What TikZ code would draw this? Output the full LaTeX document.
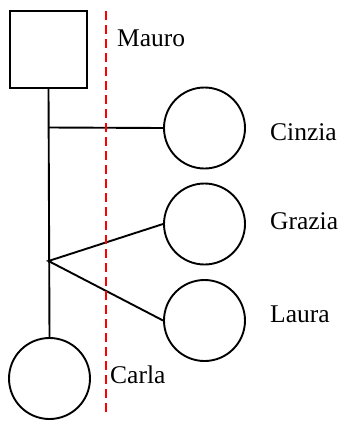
\documentclass[tikz,border=0pt]{standalone}
\usepackage{fontspec}
\setmainfont{Liberation Serif}
\begin{document}
\begin{tikzpicture}[x=1pt,y=-1pt,
  male/.style={draw, line width=1.9pt, minimum size=77pt, inner sep=0pt, shape=rectangle},
  female/.style={draw, line width=1.9pt, minimum size=81pt, inner sep=0pt, shape=circle},
  link/.style={line width=1.9pt},
  lbl/.style={inner sep=0pt, anchor=base west, font=\fontsize{25.5}{30}\selectfont},
  sep/.style={red, line width=1.9pt, dash pattern=on 9pt off 5pt}]
\useasboundingbox (0,0) rectangle (344,424);
\node[male] (mauro) at (48.5,49.5) {};
\node[female] (carla) at (49.5,378.5) {};
\node[female] (cinzia) at (204.5,128) {};
\node[female] (grazia) at (204.5,224) {};
\node[female] (laura) at (204.5,320.5) {};
\coordinate (j1) at (48.5,127.5);
\coordinate (j2) at (48.5,261);
\coordinate (rtop) at (106,11);
\coordinate (rbot) at (106,416);
\draw[link] (mauro.south) -- (carla.north);
\draw[link] (j1) -- (cinzia.west);
\draw[link] (grazia.west) -- (j2) -- (laura.west);
\draw[sep] (rtop) -- (rbot);
\node[lbl] (tm) at (117,46) {Mauro};
\node[lbl] (tc) at (270,140) {Cinzia};
\node[lbl] (tg) at (270,229) {Grazia};
\node[lbl] (tl) at (270,322) {Laura};
\node[lbl] (tca) at (110,383) {Carla};
\end{tikzpicture}
\end{document}
